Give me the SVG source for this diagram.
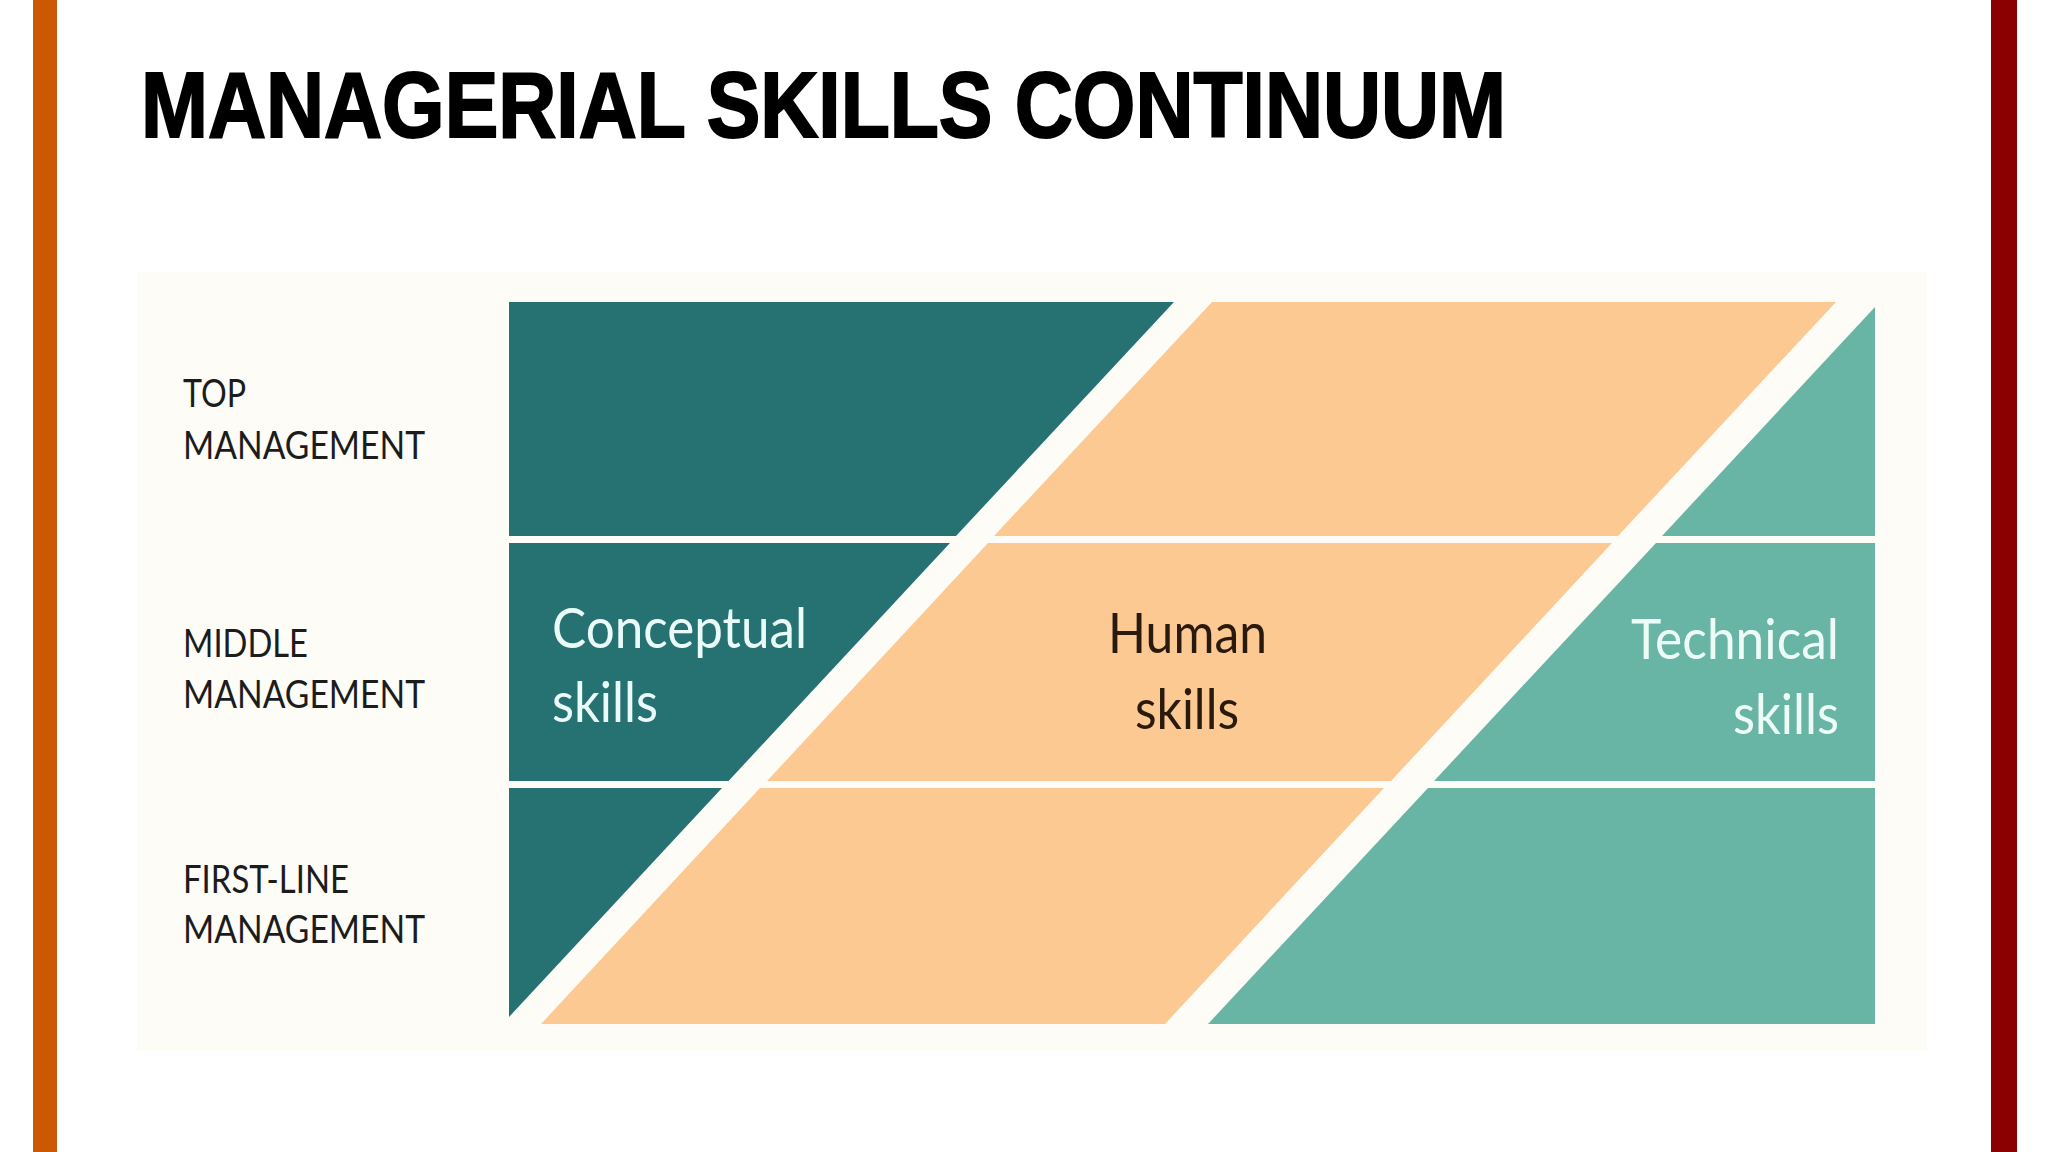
<svg xmlns="http://www.w3.org/2000/svg" width="2048" height="1152" viewBox="0 0 2048 1152">
<style>
.title{font-family:"Liberation Sans",Arial,sans-serif;font-weight:bold;font-size:92px;fill:#000;stroke:#000;stroke-width:2}
.lvl{font-family:Lato,"Open Sans",sans-serif;font-size:39px;fill:#1c1c1c}
.skill{font-family:Lato,"Open Sans",sans-serif;font-size:56px}
.dark{fill:#267272}
.orange{fill:#fdc993}
.light{fill:#68b5a6}
</style>
<rect x="0" y="0" width="2048" height="1152" fill="#ffffff"/>
<rect x="33" y="0" width="24" height="1152" fill="#cc5803"/>
<rect x="1991" y="0" width="26" height="1152" fill="#8b0000"/>
<text class="title" x="141" y="137" textLength="1365" lengthAdjust="spacingAndGlyphs">MANAGERIAL SKILLS CONTINUUM</text>
<rect id="panel" x="137" y="272" width="1790" height="779" fill="#fdfcf7"/>
<g id="levels">
<g id="top-management">
<text class="lvl" x="183" y="407" textLength="63" lengthAdjust="spacingAndGlyphs">TOP</text>
<text class="lvl" x="183" y="459" textLength="242" lengthAdjust="spacingAndGlyphs">MANAGEMENT</text>
</g>
<g id="middle-management">
<text class="lvl" x="183" y="657" textLength="125" lengthAdjust="spacingAndGlyphs">MIDDLE</text>
<text class="lvl" x="183" y="708" textLength="242" lengthAdjust="spacingAndGlyphs">MANAGEMENT</text>
</g>
<g id="first-line-management">
<text class="lvl" x="183" y="893" textLength="166" lengthAdjust="spacingAndGlyphs">FIRST-LINE</text>
<text class="lvl" x="183" y="943" textLength="242" lengthAdjust="spacingAndGlyphs">MANAGEMENT</text>
</g>
</g>
<g id="conceptual">
<polygon class="dark" points="509,302 1174,302 956,536 509,536"/>
<polygon class="dark" points="509,543 950,543 728.5,781 509,781"/>
<polygon class="dark" points="509,788 722,788 509,1017"/>
<text class="skill" x="552" y="648" fill="#eafbfa" textLength="255" lengthAdjust="spacingAndGlyphs">Conceptual</text>
<text class="skill" x="552" y="722" fill="#eafbfa" textLength="106" lengthAdjust="spacingAndGlyphs">skills</text>
</g>
<g id="human">
<polygon class="orange" points="1212,302 1836,302 1618,536 994,536"/>
<polygon class="orange" points="988,543 1612,543 1391,781 767,781"/>
<polygon class="orange" points="760,788 1384,788 1165,1024 541,1024"/>
<text class="skill" x="1108" y="653" fill="#2a1a0e" textLength="159" lengthAdjust="spacingAndGlyphs">Human</text>
<text class="skill" x="1135" y="729" fill="#2a1a0e" textLength="104" lengthAdjust="spacingAndGlyphs">skills</text>
</g>
<g id="technical">
<polygon class="light" points="1875,307 1875,536 1662,536"/>
<polygon class="light" points="1656,543 1875,543 1875,781 1434,781"/>
<polygon class="light" points="1428,788 1875,788 1875,1024 1208,1024"/>
<text class="skill" x="1631" y="659" fill="#eefcf8" textLength="208" lengthAdjust="spacingAndGlyphs">Technical</text>
<text class="skill" x="1733" y="734" fill="#eefcf8" textLength="106" lengthAdjust="spacingAndGlyphs">skills</text>
</g>
<g id="connectors"></g>
</svg>
